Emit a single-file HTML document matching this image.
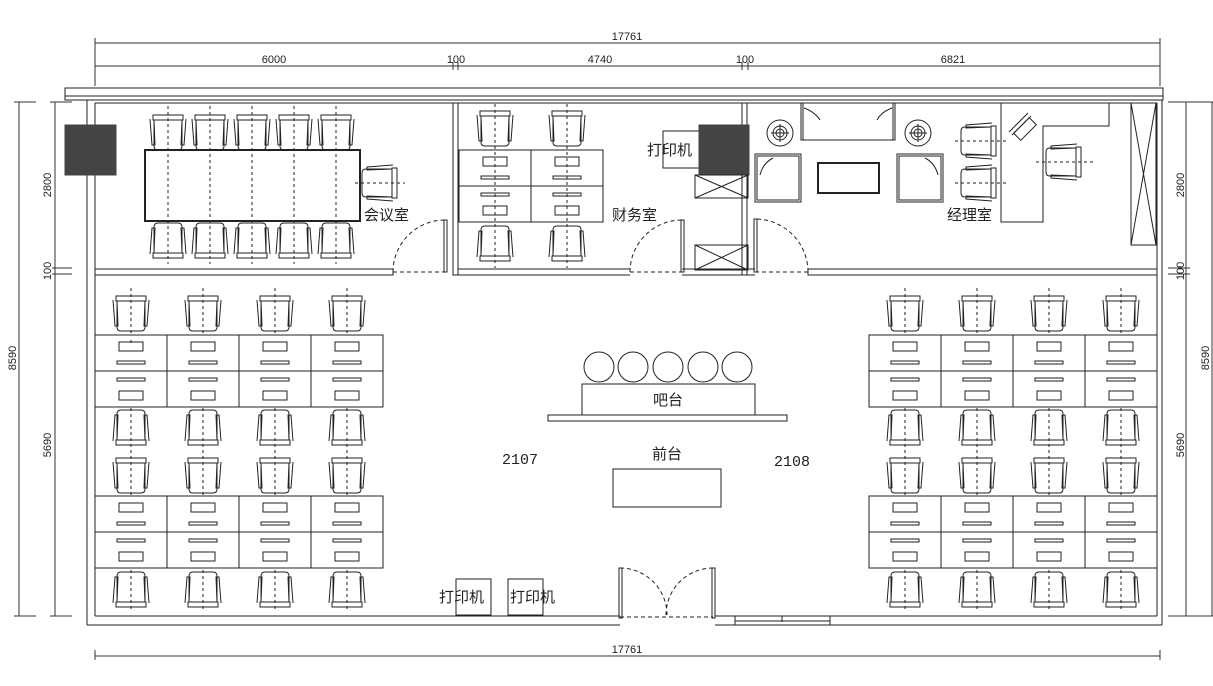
<!DOCTYPE html>
<html><head><meta charset="utf-8"><style>
html,body{margin:0;padding:0;background:#fff;}
svg{display:block;}
text{font-family:"Liberation Sans","Noto Sans CJK SC",sans-serif;fill:#222;}
.cn{font-size:15px;}
.dm{font-size:11px;}
</style></head><body>
<svg width="1213" height="686" viewBox="0 0 1213 686" xmlns="http://www.w3.org/2000/svg" fill="none" stroke="#222" stroke-width="1">
<defs>
<g id="cu"><path d="M-15 0H15V5H-15Z"/><path d="M-18 4L-16 30H-13L-14 5M18 4L16 30H13L14 5"/><path d="M-14 5V31Q-14 35 -10 35H10Q14 35 14 31V5"/></g>
<g id="cd"><g transform="scale(1,-1)"><use href="#cu"/></g></g>
<g id="dt"><rect x="0" y="0" width="72" height="36"/><rect x="24" y="7" width="24" height="9"/><rect x="22" y="26" width="28" height="3"/></g>
<g id="db"><rect x="0" y="0" width="72" height="36"/><rect x="22" y="7" width="28" height="3"/><rect x="24" y="20" width="24" height="9"/></g>
</defs>

<!-- dimension lines -->
<g stroke="#333">
<line x1="95" y1="43" x2="1160" y2="43"/><line x1="95" y1="66" x2="1160" y2="66"/>
<line x1="95" y1="38" x2="95" y2="86"/><line x1="1160" y1="38" x2="1160" y2="86"/>
<line x1="453" y1="62" x2="453" y2="70"/><line x1="458" y1="62" x2="458" y2="70"/>
<line x1="742" y1="62" x2="742" y2="70"/><line x1="748" y1="62" x2="748" y2="70"/>
<line x1="95" y1="656" x2="1160" y2="656"/><line x1="95" y1="650" x2="95" y2="660"/><line x1="1160" y1="650" x2="1160" y2="660"/>
<line x1="19" y1="102" x2="19" y2="616"/><line x1="55" y1="102" x2="55" y2="616"/>
<line x1="14" y1="102" x2="36" y2="102"/><line x1="50" y1="102" x2="72" y2="102"/>
<line x1="14" y1="616" x2="36" y2="616"/><line x1="50" y1="616" x2="72" y2="616"/>
<line x1="52" y1="268" x2="72" y2="268"/><line x1="52" y1="274" x2="72" y2="274"/>
<line x1="1186" y1="102" x2="1186" y2="616"/><line x1="1212" y1="102" x2="1212" y2="616"/>
<line x1="1168" y1="102" x2="1213" y2="102"/><line x1="1168" y1="616" x2="1213" y2="616"/>
<line x1="1168" y1="268" x2="1190" y2="268"/><line x1="1168" y1="274" x2="1190" y2="274"/>
</g>
<g class="dm" stroke="none">
<text x="627" y="40" text-anchor="middle">17761</text>
<text x="274" y="63" text-anchor="middle">6000</text>
<text x="456" y="63" text-anchor="middle">100</text>
<text x="600" y="63" text-anchor="middle">4740</text>
<text x="745" y="63" text-anchor="middle">100</text>
<text x="953" y="63" text-anchor="middle">6821</text>
<text x="627" y="653" text-anchor="middle">17761</text>
<text transform="translate(51,185) rotate(-90)" text-anchor="middle">2800</text>
<text transform="translate(51,271) rotate(-90)" text-anchor="middle">100</text>
<text transform="translate(51,445) rotate(-90)" text-anchor="middle">5690</text>
<text transform="translate(16,358) rotate(-90)" text-anchor="middle">8590</text>
<text transform="translate(1184,185) rotate(-90)" text-anchor="middle">2800</text>
<text transform="translate(1184,271) rotate(-90)" text-anchor="middle">100</text>
<text transform="translate(1184,445) rotate(-90)" text-anchor="middle">5690</text>
<text transform="translate(1209,358) rotate(-90)" text-anchor="middle">8590</text>
</g>

<!-- walls -->
<g stroke="#222">
<rect x="65" y="88" width="1098" height="12"/>
<line x1="65" y1="96" x2="1163" y2="96"/>
<line x1="87" y1="100" x2="87" y2="625"/><line x1="95" y1="103" x2="95" y2="616"/>
<line x1="95" y1="103" x2="1157" y2="103"/>
<line x1="1157" y1="103" x2="1157" y2="616"/><line x1="1162" y1="100" x2="1162" y2="625"/>
<line x1="95" y1="616" x2="620" y2="616"/><line x1="87" y1="625" x2="620" y2="625"/>
<line x1="715" y1="616" x2="1157" y2="616"/><line x1="715" y1="625" x2="1162" y2="625"/>
<line x1="735" y1="616" x2="735" y2="625"/><line x1="782" y1="616" x2="782" y2="622"/><line x1="830" y1="616" x2="830" y2="625"/>
<line x1="735" y1="621" x2="830" y2="621"/>
<!-- partition -->
<rect x="95" y="269" width="298" height="6"/>
<rect x="453" y="103" width="5" height="172"/>
<line x1="458" y1="269" x2="630" y2="269"/><line x1="458" y1="275" x2="630" y2="275"/>
<line x1="682" y1="269" x2="755" y2="269"/><line x1="682" y1="275" x2="755" y2="275"/>
<rect x="742" y="103" width="5" height="172"/>
<rect x="808" y="269" width="349" height="6"/>
</g>
<!-- doors -->
<g stroke="#222" stroke-dasharray="4,3">
<line x1="393" y1="272" x2="445" y2="272"/><path d="M393 272A52 52 0 0 1 445 220"/>
<line x1="630" y1="272" x2="682" y2="272"/><path d="M630 272A52 52 0 0 1 682 220"/>
<line x1="755" y1="272" x2="808" y2="272"/><path d="M808 272A53 53 0 0 0 755 219"/>
<line x1="620" y1="617" x2="713" y2="617"/>
<path d="M620 568A47 47 0 0 1 667 615"/><path d="M713 568A47 47 0 0 0 666 615"/>
</g>
<g stroke="#222">
<rect x="444" y="220" width="3" height="52"/>
<rect x="681" y="220" width="3" height="52"/>
<rect x="754" y="219" width="3" height="53"/>
<rect x="619" y="568" width="3" height="50"/>
<rect x="712" y="568" width="3" height="50"/>
</g>

<!-- meeting room -->
<rect x="65" y="125" width="51" height="50" fill="#444" stroke="#444"/>
<rect x="145" y="150" width="215" height="71" stroke-width="2"/>
<g stroke-dasharray="3,3"><line x1="168" y1="106" x2="168" y2="264"/><line x1="210" y1="106" x2="210" y2="264"/><line x1="252" y1="106" x2="252" y2="264"/><line x1="294" y1="106" x2="294" y2="264"/><line x1="336" y1="106" x2="336" y2="264"/><line x1="355" y1="183" x2="405" y2="183"/></g>
<use href="#cu" x="168" y="115"/><use href="#cu" x="210" y="115"/><use href="#cu" x="252" y="115"/><use href="#cu" x="294" y="115"/><use href="#cu" x="336" y="115"/>
<use href="#cd" x="168" y="258"/><use href="#cd" x="210" y="258"/><use href="#cd" x="252" y="258"/><use href="#cd" x="294" y="258"/><use href="#cd" x="336" y="258"/>
<g transform="translate(397,183) rotate(90)"><use href="#cu"/></g>
<text class="cn" x="364" y="220" stroke="none">会议室</text>

<!-- finance -->
<g stroke-dasharray="3,3"><line x1="495" y1="104" x2="495" y2="268"/><line x1="567" y1="104" x2="567" y2="268"/></g>
<use href="#cu" x="495" y="111"/><use href="#cu" x="567" y="111"/>
<use href="#cd" x="495" y="261"/><use href="#cd" x="567" y="261"/>
<g transform="translate(459,150)"><use href="#dt"/><use href="#dt" x="72"/><use href="#db" y="36"/><use href="#db" x="72" y="36"/></g>
<text class="cn" x="612" y="220" stroke="none">财务室</text>
<rect x="663" y="131" width="37" height="37"/>
<rect x="699" y="125" width="50" height="50" fill="#444" stroke="#444"/>
<text class="cn" x="647" y="155" stroke="none">打印机</text>
<g><rect x="695" y="175" width="53" height="23"/><path d="M695 175L748 198M748 175L695 198"/>
<rect x="695" y="245" width="53" height="25"/><path d="M695 245L748 270M748 245L695 270"/></g>

<!-- manager -->
<rect x="801" y="103" width="94" height="37"/><line x1="803" y1="103" x2="803" y2="140"/><line x1="893" y1="103" x2="893" y2="140"/>
<path d="M804 108Q815 112 820 120M892 108Q881 112 877 120"/>
<g><circle cx="780" cy="133" r="13"/><circle cx="780" cy="133" r="7"/><circle cx="780" cy="133" r="4"/><line x1="771" y1="133" x2="789" y2="133"/><line x1="780" y1="124" x2="780" y2="142"/>
<circle cx="918" cy="133" r="13"/><circle cx="918" cy="133" r="7"/><circle cx="918" cy="133" r="4"/><line x1="909" y1="133" x2="927" y2="133"/><line x1="918" y1="124" x2="918" y2="142"/></g>
<rect x="755" y="154" width="46" height="48"/><rect x="757" y="156" width="42" height="44"/>
<path d="M760 175Q763 163 773 158"/>
<rect x="897" y="154" width="46" height="48"/><rect x="899" y="156" width="42" height="44"/>
<path d="M938 175Q935 163 925 158"/>
<rect x="818" y="163" width="61" height="30" stroke-width="2"/>
<path d="M1001 103V222H1043V126H1109V103"/>
<path d="M1009 132L1028 113M1012 135L1031 116"/><rect x="1020" y="118" width="10" height="22" transform="rotate(45 1025 129)"/>
<g stroke-dasharray="3,3"><line x1="955" y1="141" x2="1008" y2="141"/><line x1="955" y1="183" x2="1008" y2="183"/><line x1="1036" y1="162" x2="1095" y2="162"/></g>
<g transform="translate(996,141) rotate(90)"><use href="#cu"/></g>
<g transform="translate(996,183) rotate(90)"><use href="#cu"/></g>
<g transform="translate(1081,162) rotate(90)"><use href="#cu"/></g>
<text class="cn" x="947" y="220" stroke="none">经理室</text>
<rect x="1131" y="103" width="25" height="142"/><path d="M1131 103L1156 245M1156 103L1131 245"/>

<!-- left workstations -->
<g stroke-dasharray="3,3">
<line x1="131" y1="288" x2="131" y2="612"/><line x1="203" y1="288" x2="203" y2="612"/><line x1="275" y1="288" x2="275" y2="612"/><line x1="347" y1="288" x2="347" y2="612"/>
<line x1="905" y1="288" x2="905" y2="612"/><line x1="977" y1="288" x2="977" y2="612"/><line x1="1049" y1="288" x2="1049" y2="612"/><line x1="1121" y1="288" x2="1121" y2="612"/>
</g>
<g id="grpL">
<use href="#cu" x="131" y="296"/><use href="#cu" x="203" y="296"/><use href="#cu" x="275" y="296"/><use href="#cu" x="347" y="296"/>
<g transform="translate(95,335)" fill="#fff"><use href="#dt"/><use href="#dt" x="72"/><use href="#dt" x="144"/><use href="#dt" x="216"/>
<use href="#db" y="36"/><use href="#db" x="72" y="36"/><use href="#db" x="144" y="36"/><use href="#db" x="216" y="36"/></g>
<use href="#cd" x="131" y="445"/><use href="#cd" x="203" y="445"/><use href="#cd" x="275" y="445"/><use href="#cd" x="347" y="445"/>
<use href="#cu" x="131" y="458"/><use href="#cu" x="203" y="458"/><use href="#cu" x="275" y="458"/><use href="#cu" x="347" y="458"/>
<g transform="translate(95,496)" fill="#fff"><use href="#dt"/><use href="#dt" x="72"/><use href="#dt" x="144"/><use href="#dt" x="216"/>
<use href="#db" y="36"/><use href="#db" x="72" y="36"/><use href="#db" x="144" y="36"/><use href="#db" x="216" y="36"/></g>
<use href="#cd" x="131" y="607"/><use href="#cd" x="203" y="607"/><use href="#cd" x="275" y="607"/><use href="#cd" x="347" y="607"/>
</g>
<use href="#grpL" x="774"/>
<g stroke-dasharray="3,3" stroke-width="1">
<line x1="131" y1="340" x2="131" y2="345"/>
</g>

<!-- bar & reception -->
<circle cx="599" cy="367" r="15"/><circle cx="633" cy="367" r="15"/><circle cx="668" cy="367" r="15"/><circle cx="703" cy="367" r="15"/><circle cx="737" cy="367" r="15"/>
<rect x="582" y="384" width="173" height="31"/>
<rect x="548" y="415" width="239" height="6"/>
<text class="cn" x="668" y="405" text-anchor="middle" stroke="none">吧台</text>
<text class="cn" x="667" y="459" text-anchor="middle" stroke="none">前台</text>
<rect x="613" y="469" width="108" height="38"/>
<text x="520" y="464" text-anchor="middle" stroke="none" style="font-family:'Liberation Mono',monospace;font-size:15px">2107</text>
<text x="792" y="466" text-anchor="middle" stroke="none" style="font-family:'Liberation Mono',monospace;font-size:15px">2108</text>

<!-- bottom printers -->
<rect x="456" y="579" width="35" height="36"/><rect x="508" y="579" width="35" height="36"/>
<text class="cn" x="439" y="602" stroke="none">打印机</text>
<text class="cn" x="510" y="602" stroke="none">打印机</text>
</svg>
</body></html>
